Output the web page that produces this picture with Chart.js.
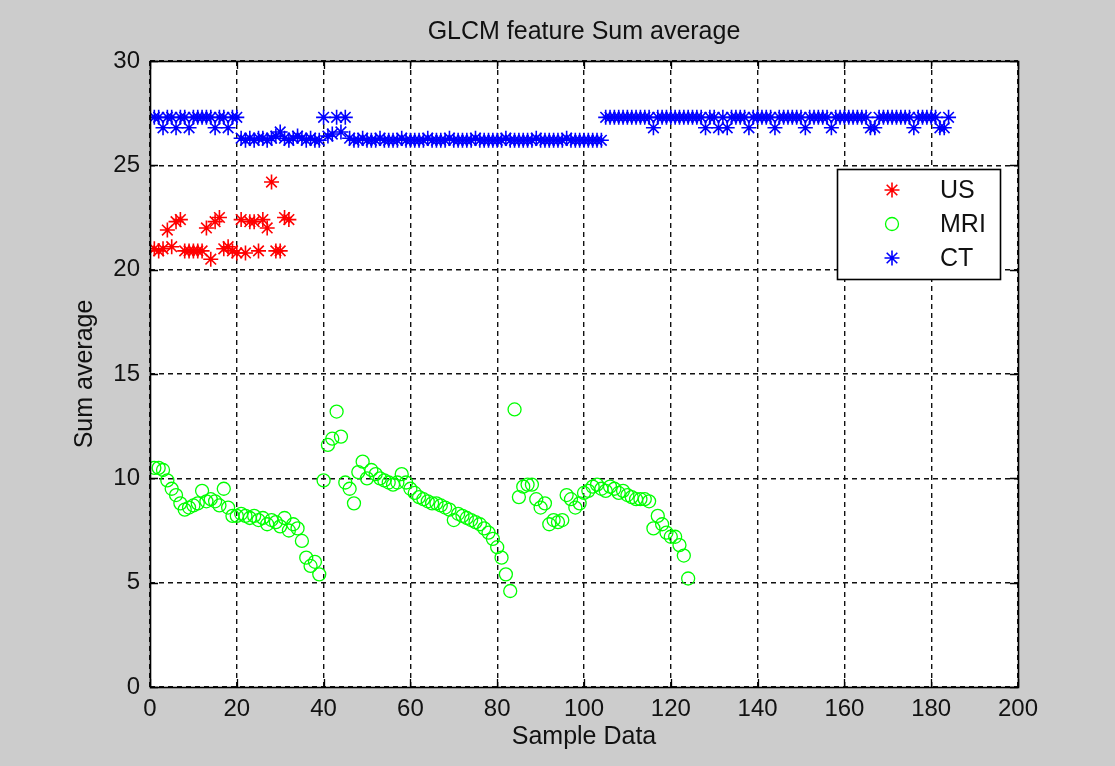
<!DOCTYPE html>
<html>
<head>
<meta charset="utf-8">
<script src="https://cdn.jsdelivr.net/npm/chart.js@4/dist/chart.umd.min.js"></script>
<style>
  body { margin: 0; background: #cccccc; }
  #wrap { width: 1115px; height: 766px; }
</style>
</head>
<body>
<div id="wrap"><canvas id="scatterChart"></canvas></div>
<script>
// sample values, index 1..n
var usValues = [21.0, 20.9, 21.0, 21.9, 21.1, 22.3, 22.4, 20.9, 20.9, 20.9, 20.9, 20.9, 22.0, 20.5, 22.3, 22.5,
    21.0, 21.1, 20.9, 20.8, 22.4, 20.8, 22.3, 22.3, 20.9, 22.4, 22.0, 24.2, 20.9, 20.9, 22.5, 22.4];

var mriValues = [10.5, 10.5, 10.4, 9.9, 9.5, 9.2, 8.8, 8.5, 8.6, 8.7, 8.8, 9.4, 8.9, 9.0, 8.9, 8.7,
    9.5, 8.6, 8.2, 8.2, 8.3, 8.2, 8.1, 8.2, 8.0, 8.1, 7.8, 8.0, 7.9, 7.7, 8.1, 7.5,
    7.8, 7.6, 7.0, 6.2, 5.8, 6.0, 5.4, 9.9, 11.6, 11.9, 13.2, 12.0, 9.8, 9.5, 8.8, 10.3,
    10.8, 10.0, 10.4, 10.2, 10.0, 9.9, 9.8, 9.7, 9.8, 10.2, 9.8, 9.5, 9.3, 9.1, 9.0, 8.9,
    8.8, 8.8, 8.7, 8.6, 8.5, 8.0, 8.3, 8.2, 8.1, 8.0, 7.9, 7.8, 7.6, 7.4, 7.1, 6.7,
    6.2, 5.4, 4.6, 13.3, 9.1, 9.6, 9.7, 9.7, 9.0, 8.6, 8.8, 7.8, 8.0, 7.9, 8.0, 9.2,
    9.0, 8.6, 8.8, 9.3, 9.4, 9.6, 9.7, 9.5, 9.4, 9.6, 9.5, 9.3, 9.4, 9.2, 9.1, 9.0,
    9.0, 9.0, 8.9, 7.6, 8.2, 7.8, 7.4, 7.2, 7.2, 6.8, 6.3, 5.2];

var ctValues = [27.3, 27.3, 26.8, 27.3, 27.3, 26.8, 27.3, 27.3, 26.8, 27.3, 27.3, 27.3, 27.3, 27.3, 26.8, 27.3,
    27.3, 26.8, 27.3, 27.3, 26.3, 26.2, 26.3, 26.2, 26.3, 26.3, 26.2, 26.3, 26.4, 26.6, 26.3, 26.2,
    26.3, 26.4, 26.3, 26.2, 26.3, 26.2, 26.2, 27.3, 26.4, 26.5, 27.3, 26.6, 27.3, 26.3, 26.2, 26.2,
    26.3, 26.2, 26.2, 26.2, 26.3, 26.2, 26.2, 26.2, 26.2, 26.3, 26.2, 26.2, 26.2, 26.2, 26.2, 26.3,
    26.2, 26.2, 26.2, 26.2, 26.3, 26.2, 26.2, 26.2, 26.2, 26.2, 26.3, 26.2, 26.2, 26.2, 26.2, 26.2,
    26.2, 26.3, 26.2, 26.2, 26.2, 26.2, 26.2, 26.2, 26.3, 26.2, 26.2, 26.2, 26.2, 26.2, 26.2, 26.3,
    26.2, 26.2, 26.2, 26.2, 26.2, 26.2, 26.2, 26.2, 27.3, 27.3, 27.3, 27.3, 27.3, 27.3, 27.3, 27.3,
    27.3, 27.3, 27.3, 26.8, 27.3, 27.3, 27.3, 27.3, 27.3, 27.3, 27.3, 27.3, 27.3, 27.3, 27.3, 26.8,
    27.3, 27.3, 26.8, 27.3, 26.8, 27.3, 27.3, 27.3, 27.3, 26.8, 27.3, 27.3, 27.3, 27.3, 27.3, 26.8,
    27.3, 27.3, 27.3, 27.3, 27.3, 27.3, 26.8, 27.3, 27.3, 27.3, 27.3, 27.3, 26.8, 27.3, 27.3, 27.3,
    27.3, 27.3, 27.3, 27.3, 27.3, 26.8, 26.8, 27.3, 27.3, 27.3, 27.3, 27.3, 27.3, 27.3, 27.3, 26.8,
    27.3, 27.3, 27.3, 27.3, 27.3, 26.8, 26.8, 27.3];

var xTicks = [0, 20, 40, 60, 80, 100, 120, 140, 160, 180, 200];
var yTicks = [0, 5, 10, 15, 20, 25, 30];

var FONT = '"Liberation Sans", Arial, sans-serif';

function toPoints(values) {
    return values.map(function (v, i) { return { x: i + 1, y: v }; });
}

// gray figure, white axes, box, inner ticks and the legend box
var matlabFrame = {
    id: 'matlabFrame',
    beforeDraw: function (chart) {
        var c = chart.ctx, a = chart.chartArea;
        c.save();
        c.fillStyle = '#cccccc';
        c.fillRect(0, 0, chart.width, chart.height);
        c.fillStyle = '#ffffff';
        c.fillRect(a.left, a.top, a.right - a.left, a.bottom - a.top);
        c.restore();
    },
    afterDraw: function (chart) {
        var c = chart.ctx, a = chart.chartArea;
        var xs = chart.scales.x, ys = chart.scales.y;
        c.save();
        c.strokeStyle = '#000';
        c.lineWidth = 1.3;
        c.setLineDash([]);
        c.beginPath();
        xTicks.forEach(function (v) {
            var px = Math.round(xs.getPixelForValue(v)) + 0.5;
            c.moveTo(px, a.bottom); c.lineTo(px, a.bottom - 8);
            c.moveTo(px, a.top); c.lineTo(px, a.top + 8);
        });
        yTicks.forEach(function (v) {
            var py = Math.round(ys.getPixelForValue(v)) + 0.5;
            c.moveTo(a.left, py); c.lineTo(a.left + 8, py);
            c.moveTo(a.right, py); c.lineTo(a.right - 8, py);
        });
        c.stroke();
        c.lineWidth = 1.6;
        c.strokeRect(Math.round(a.left) + 0.5, Math.round(a.top) + 0.5,
            Math.round(a.right - a.left), Math.round(a.bottom - a.top));

        // legend
        var bx = a.right - 181, by = a.top + 108, bw = 163, bh = 110;
        c.fillStyle = '#ffffff';
        c.fillRect(bx, by, bw, bh);
        c.lineWidth = 1.6;
        c.strokeStyle = '#000';
        c.strokeRect(bx + 0.5, by + 0.5, bw, bh);
        var rows = [by + 21, by + 55, by + 89];
        chart.data.datasets.forEach(function (ds, i) {
            var mx = bx + 55, my = rows[i];
            c.strokeStyle = ds.borderColor;
            c.lineWidth = ds.borderWidth;
            c.beginPath();
            if (ds.pointStyle === 'circle') {
                c.arc(mx, my, ds.pointRadius, 0, Math.PI * 2);
            } else {
                var r = ds.pointRadius, d = r * Math.SQRT1_2;
                c.moveTo(mx - r, my); c.lineTo(mx + r, my);
                c.moveTo(mx, my - r); c.lineTo(mx, my + r);
                c.moveTo(mx - d, my - d); c.lineTo(mx + d, my + d);
                c.moveTo(mx - d, my + d); c.lineTo(mx + d, my - d);
            }
            c.stroke();
            c.fillStyle = '#111';
            c.font = '25px ' + FONT;
            c.textBaseline = 'middle';
            c.textAlign = 'left';
            c.fillText(ds.label, bx + 103, my + 1);
        });
        c.restore();
    }
};

var ctx = document.getElementById('scatterChart').getContext('2d');
var myChart = new Chart(ctx, {
    type: 'scatter',
    data: {
        datasets: [{
            label: 'US',
            data: toPoints(usValues),
            pointStyle: 'star',
            pointRadius: 7.5,
            borderColor: '#ff0000',
            backgroundColor: '#ff0000',
            borderWidth: 1.6
        }, {
            label: 'MRI',
            data: toPoints(mriValues),
            pointStyle: 'circle',
            pointRadius: 6.5,
            borderColor: '#00ff00',
            backgroundColor: 'rgba(0,0,0,0)',
            borderWidth: 1.3
        }, {
            label: 'CT',
            data: toPoints(ctValues),
            pointStyle: 'star',
            pointRadius: 7.5,
            borderColor: '#0000ff',
            backgroundColor: '#0000ff',
            borderWidth: 1.6
        }]
    },
    options: {
        responsive: true,
        maintainAspectRatio: false,
        animation: false,
        layout: { padding: { top: 0, right: 97, bottom: 0, left: 0 } },
        plugins: {
            legend: { display: false },
            tooltip: { enabled: false },
            title: {
                display: true,
                fullSize: false,
                text: 'GLCM feature Sum average',
                color: '#111',
                font: { family: FONT, size: 25, weight: 'normal' },
                padding: { top: 17, bottom: 14 }
            }
        },
        scales: {
            x: {
                type: 'linear',
                min: 0,
                max: 200,
                afterFit: function (scale) { scale.height = 79; },
                afterBuildTicks: function (scale) {
                    scale.ticks = xTicks.map(function (v) { return { value: v }; });
                },
                ticks: {
                    color: '#111',
                    padding: 8,
                    maxRotation: 0,
                    font: { family: FONT, size: 24 }
                },
                grid: { color: '#111', lineWidth: 1.4, drawTicks: false },
                border: { display: false, dash: [5, 4] },
                title: {
                    display: true,
                    text: 'Sample Data',
                    color: '#111',
                    font: { family: FONT, size: 25 },
                    padding: { top: 0, bottom: 14 }
                }
            },
            y: {
                type: 'linear',
                min: 0,
                max: 30,
                afterFit: function (scale) { scale.width = 150; },
                afterBuildTicks: function (scale) {
                    scale.ticks = yTicks.map(function (v) { return { value: v }; });
                },
                ticks: {
                    color: '#111',
                    padding: 10,
                    font: { family: FONT, size: 24 }
                },
                grid: { color: '#111', lineWidth: 1.4, drawTicks: false },
                border: { display: false, dash: [5, 4] },
                title: {
                    display: true,
                    text: 'Sum average',
                    color: '#111',
                    font: { family: FONT, size: 25 },
                    padding: { top: 70, bottom: 0 }
                }
            }
        }
    },
    plugins: [matlabFrame]
});
</script>
</body>
</html>
